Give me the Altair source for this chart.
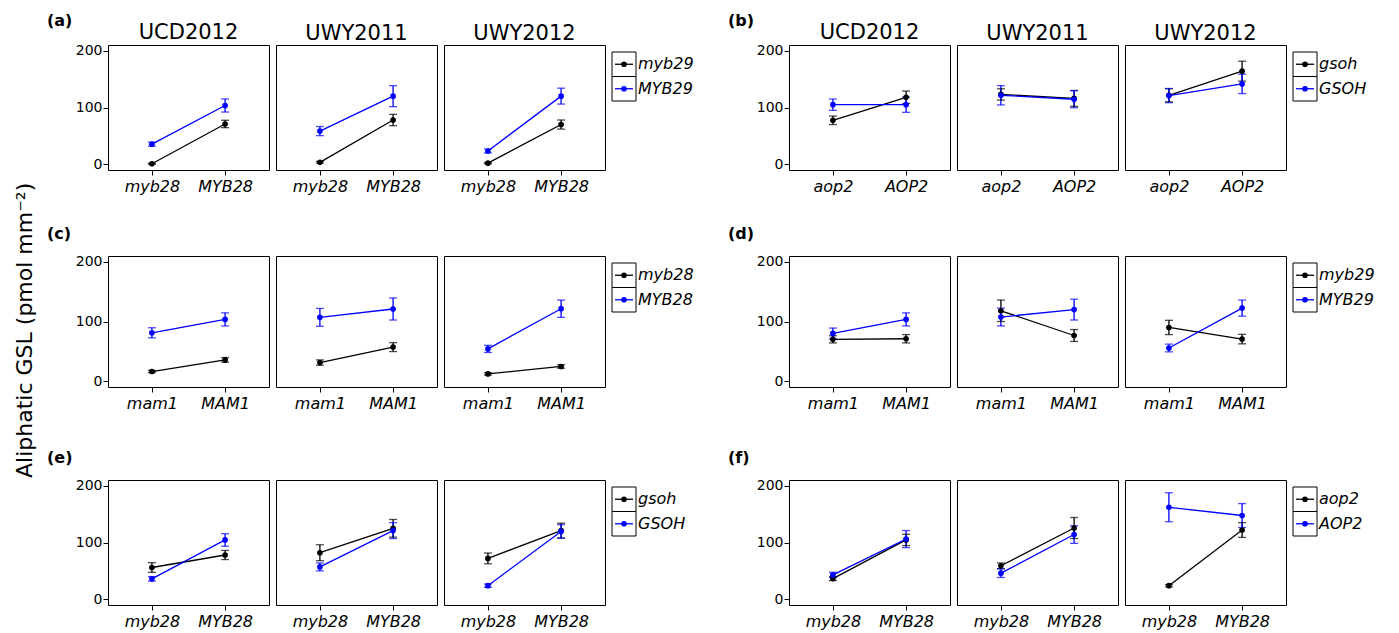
import altair as alt
import pandas as pd

FONT = "DejaVu Sans"

sites = ["UCD2012", "UWY2011", "UWY2012"]
block_labels = ["(a)", "(b)", "(c)", "(d)", "(e)", "(f)"]
x_levels = [["myb28", "MYB28"], ["aop2", "AOP2"], ["mam1", "MAM1"],
            ["mam1", "MAM1"], ["myb28", "MYB28"], ["myb28", "MYB28"]]
legend_levels = [["myb29", "MYB29"], ["gsoh", "GSOH"], ["myb28", "MYB28"],
                 ["myb29", "MYB29"], ["gsoh", "GSOH"], ["aop2", "AOP2"]]

# means / standard errors, per block -> per site -> [lower-case x level, upper-case x level]
black_mean = [
    [[1, 71], [3.5, 78], [2, 70]],
    [[77.5, 118], [123, 116], [121.5, 164]],
    [[16, 35.5], [31, 57], [12, 24.5]],
    [[70, 71], [118, 76.5], [90, 70.5]],
    [[56, 78], [82, 125], [72, 121]],
    [[36.5, 104.5], [59, 125.5], [24, 122]],
]
black_se = [
    [[1, 6.5], [1.5, 10], [1, 8]],
    [[7.5, 11], [10, 14], [11.5, 17.5]],
    [[2, 4], [4.5, 7.5], [2, 3]],
    [[6, 7], [18, 10], [12, 8]],
    [[8.5, 8], [14, 15.5], [9.5, 13]],
    [[3.5, 10], [5, 18.5], [2, 13]],
]
blue_mean = [
    [[35.5, 103.5], [58.5, 120], [23.5, 120]],
    [[105, 105], [121.5, 114.5], [121, 141.5]],
    [[81, 103.5], [107, 121], [54, 121.5]],
    [[80, 103.5], [107.5, 120], [55.5, 122.5]],
    [[36, 104.5], [57, 121], [24, 119.5]],
    [[43, 106], [46, 114], [162, 147.5]],
]
blue_se = [
    [[3.5, 11.5], [8, 18.5], [3.5, 14]],
    [[10, 13.5], [17, 15], [12.5, 17]],
    [[8.5, 11], [15, 18.5], [6, 14.5]],
    [[9, 11], [15, 17.5], [6.5, 13.5]],
    [[4, 11], [7, 14], [3, 12]],
    [[4.5, 15], [7.5, 15.5], [25.5, 21]],
]
line_colors = ["black", "blue"]
y_ticks = [0, 100, 200]

PW = 161
ROW_H = [125, 131, 125]


def panel(b, s, height, show_y, top_row):
    rows = []
    for gi, (means, ses) in enumerate([(black_mean, black_se), (blue_mean, blue_se)]):
        for xi in range(2):
            m = means[b][s][xi]
            e = ses[b][s][xi]
            rows.append({"xlev": x_levels[b][xi], "grp": legend_levels[b][gi],
                         "col": line_colors[gi], "mean": m, "lo": m - e, "hi": m + e})
    df = pd.DataFrame(rows)
    base = alt.Chart(df)
    x = alt.X("xlev:N", sort=x_levels[b],
              scale=alt.Scale(type="point", domain=x_levels[b], padding=0.6),
              axis=alt.Axis(title=None, labelAngle=0, labelFontStyle="italic",
                            labelFontSize=16, labelFont=FONT, tickSize=5,
                            domain=False, labelPadding=3, labelColor="black",
                            tickColor="black"))
    yscale = alt.Scale(domain=[-10, 210], nice=False, zero=False)
    if show_y:
        yaxis = alt.Axis(title=None, values=y_ticks, grid=False, domain=False,
                         tickSize=5, labelPadding=1, labelFontSize=14,
                         labelFont=FONT, labelColor="black", tickColor="black")
    else:
        yaxis = None
    y = alt.Y("mean:Q", scale=yscale, axis=yaxis)
    col = alt.Color("col:N", scale=None)
    line = base.mark_line(strokeWidth=1.3).encode(x=x, y=y, color=col, detail="grp:N")
    bars = base.mark_rule(strokeWidth=1.3).encode(
        x=x, y=alt.Y("lo:Q", scale=yscale, axis=yaxis), y2="hi:Q", color=col)
    cap_lo = base.mark_tick(size=8, thickness=1.3).encode(
        x=x, y=alt.Y("lo:Q", scale=yscale, axis=yaxis), color=col)
    cap_hi = base.mark_tick(size=8, thickness=1.3).encode(
        x=x, y=alt.Y("hi:Q", scale=yscale, axis=yaxis), color=col)
    pts = base.mark_circle(size=32, opacity=1).encode(x=x, y=y, color=col)
    props = dict(width=PW, height=height,
                 view=alt.ViewBackground(stroke="black", strokeWidth=1))
    if top_row:
        props["title"] = alt.TitleParams(sites[s], fontSize=21, font=FONT,
                                         fontWeight="normal", color="black",
                                         anchor="middle", offset=1)
    return alt.layer(line, bars, cap_lo, cap_hi, pts).properties(**props)


def legend_chart(b, height):
    ldf = pd.DataFrame({"grp": legend_levels[b], "col": line_colors})
    base = alt.Chart(ldf)
    sc = alt.Scale(type="band", domain=legend_levels[b], range=[7, 56],
                   paddingInner=0, paddingOuter=0)
    yb = alt.Y("grp:N", sort=legend_levels[b], scale=sc, axis=None)
    ym = alt.Y("grp:N", sort=legend_levels[b], bandPosition=0.5, scale=sc, axis=None)
    box = base.mark_rect(fill="white", stroke="black", strokeWidth=1).encode(
        y=yb, x=alt.value(0), x2=alt.value(24))
    seg = base.mark_rule(strokeWidth=1.3).encode(
        y=ym, x=alt.value(3), x2=alt.value(21), color=alt.Color("col:N", scale=None))
    dot = base.mark_circle(size=32, opacity=1).encode(
        y=ym, x=alt.value(12), color=alt.Color("col:N", scale=None))
    txt = base.mark_text(align="left", baseline="middle", fontSize=16, font=FONT,
                         fontStyle="italic", color="black").encode(
        y=ym, x=alt.value(26), text="grp:N")
    return alt.layer(box, seg, dot, txt).properties(
        width=90, height=height, view=alt.ViewBackground(stroke=None))


def block(b, row):
    h = ROW_H[row]
    top = row == 0
    charts = [panel(b, s, h, s == 0, top) for s in range(3)] + [legend_chart(b, h)]
    if top:
        tp = alt.TitleParams(block_labels[b], anchor="start", frame="group",
                             fontSize=16, font=FONT, fontWeight="bold",
                             color="black", dx=-61, dy=8, offset=0)
    else:
        tp = alt.TitleParams(block_labels[b], anchor="start", frame="group",
                             fontSize=16, font=FONT, fontWeight="bold",
                             color="black", dx=-61, offset=12)
    return alt.hconcat(*charts, spacing=5, title=tp)


rows = []
for r in range(3):
    rows.append(alt.hconcat(block(2 * r, r), block(2 * r + 1, r), spacing=26))

upper = alt.vconcat(rows[0], rows[1], spacing=31)

chart = alt.vconcat(upper, rows[2], spacing=38,
                    title=alt.TitleParams("Aliphatic GSL (pmol mm⁻²)", orient="left",
                                          anchor="middle", fontSize=22, font=FONT,
                                          fontWeight="normal", color="black",
                                          offset=10, dx=-9)
                    ).configure_view(stroke=None).configure(background="white")

chart.save("out.html", embed_options={"renderer": "svg", "actions": False})
